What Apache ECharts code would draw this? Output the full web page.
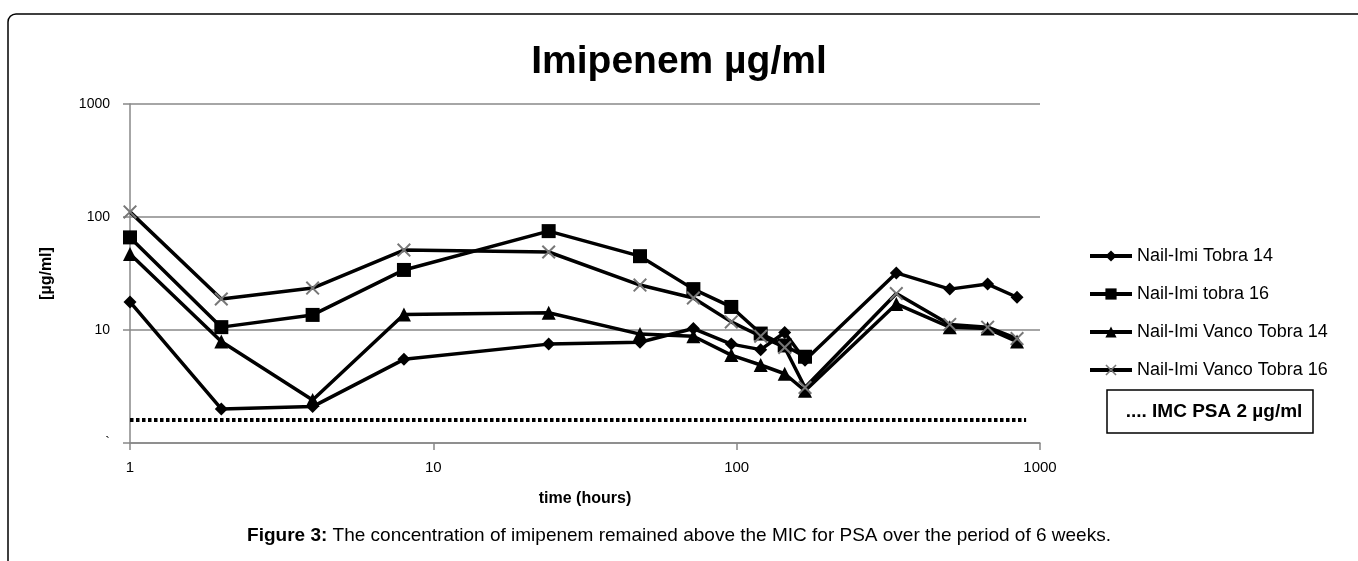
<!DOCTYPE html>
<html>
<head>
<meta charset="utf-8">
<title>Imipenem</title>
<script src="https://cdn.jsdelivr.net/npm/echarts@6/dist/echarts.min.js"></script>
<style>
  html, body { margin:0; padding:0; background:#fff; }
  #myChart { width:1358px; height:561px; }
</style>
</head>
<body>
<div id="myChart"></div>
<script>
// time points (hours)
var times = [1, 2, 4, 8, 24, 48, 72, 96, 120, 144, 168, 336, 504, 672, 840];
// concentrations (µg/ml)
var tobra14 = [17.7, 2.0, 2.1, 5.5, 7.5, 7.8, 10.3, 7.5, 6.7, 9.5, 5.4, 32, 23, 25.5, 19.5];
var tobra16 = [66, 10.6, 13.6, 34, 75, 45, 23, 16, 9.3, 7.3, 5.8, null, null, null, null];
var vanco14 = [47, 7.9, 2.4, 13.7, 14.2, 9.2, 8.8, 6.0, 4.9, 4.1, 2.9, 17, 10.6, 10.3, 7.9];
var vanco16 = [111, 18.8, 23.5, 51, 49, 25, 19.2, 11.8, 8.8, 7.0, 3.1, 21, 11.2, 10.6, 8.4];
// MIC reference line
var micTimes = [1, 900];
var micValue = 1.6;

var seriesNames = ['Nail-Imi Tobra 14', 'Nail-Imi tobra 16', 'Nail-Imi Vanco Tobra 14', 'Nail-Imi Vanco Tobra 16'];

function pairs(vals) {
  var out = [];
  for (var i = 0; i < times.length; i++) {
    if (vals[i] != null) out.push([times[i], vals[i]]);
  }
  return out;
}

var crossPath = 'path://M0,1L1,0L5,4L9,0L10,1L6,5L10,9L9,10L5,6L1,10L0,9L4,5Z';
var font = 'Arial, "Liberation Sans", sans-serif';

function lineSeries(name, vals, symbol, size, symColor) {
  return {
    name: name,
    type: 'line',
    data: pairs(vals),
    symbol: symbol,
    symbolSize: size,
    showSymbol: true,
    lineStyle: { color: '#000', width: 3.5 },
    itemStyle: { color: symColor || '#000' },
    emphasis: { disabled: true },
    z: 3
  };
}

var myChart = echarts.init(document.getElementById('myChart'));
var option = {
  backgroundColor: '#fff',
  animation: false,
  textStyle: { fontFamily: font },
  title: {
    text: 'Imipenem µg/ml',
    left: 'center',
    top: 38,
    textStyle: { fontSize: 39, fontWeight: 'bold', color: '#000', fontFamily: font }
  },
  legend: {
    data: seriesNames,
    orient: 'vertical',
    left: 1083,
    top: 242,
    itemWidth: 42,
    itemHeight: 14,
    itemGap: 20,
    lineStyle: { width: 4 },
    textStyle: { fontSize: 18, color: '#000', fontFamily: font }
  },
  grid: { left: 130, right: 318, top: 104, bottom: 118 },
  xAxis: {
    type: 'log',
    logBase: 10,
    min: 1,
    max: 1000,
    name: 'time (hours)',
    nameLocation: 'middle',
    nameGap: 48,
    nameTextStyle: { fontSize: 16, fontWeight: 'bold', color: '#000' },
    axisLine: { lineStyle: { color: '#888', width: 1.5 } },
    axisTick: { show: true, length: 7, lineStyle: { color: '#888', width: 1.5 } },
    axisLabel: { fontSize: 15, color: '#000', margin: 17, formatter: function (v) { return String(v); } },
    splitLine: { show: false }
  },
  yAxis: {
    type: 'log',
    logBase: 10,
    min: 1,
    max: 1000,
    name: '[µg/ml]',
    nameLocation: 'middle',
    nameGap: 75,
    nameTextStyle: { fontSize: 16, fontWeight: 'bold', color: '#000' },
    axisLine: { show: true, lineStyle: { color: '#888', width: 1.5 } },
    axisTick: { show: true, length: 7, lineStyle: { color: '#888', width: 1.5 } },
    axisLabel: {
      fontSize: 14, color: '#000', margin: 20,
      formatter: function (v) { return v === 1 ? '`' : String(v); }
    },
    splitLine: { show: true, lineStyle: { color: '#888', width: 1.5 } }
  },
  series: [
    lineSeries(seriesNames[0], tobra14, 'diamond', 13),
    lineSeries(seriesNames[1], tobra16, 'rect', 14),
    lineSeries(seriesNames[2], vanco14, 'triangle', 14),
    lineSeries(seriesNames[3], vanco16, crossPath, 14, '#777'),
    {
      name: 'IMC PSA 2 µg/ml',
      type: 'line',
      data: micTimes.map(function (t) { return [t, micValue]; }),
      symbol: 'none',
      lineStyle: { color: '#000', width: 4, type: [3.5, 2.5] },
      emphasis: { disabled: true },
      z: 2
    }
  ],
  graphic: [
    // outer frame of the figure
    {
      type: 'rect',
      shape: { x: 8, y: 14, width: 1420, height: 620, r: 8 },
      style: { fill: 'none', stroke: '#000', lineWidth: 1.5 },
      silent: true
    },
    // MIC box in the legend area
    {
      type: 'rect',
      shape: { x: 1107, y: 390, width: 206, height: 43 },
      style: { fill: '#fff', stroke: '#000', lineWidth: 1.5 },
      silent: true
    },
    {
      type: 'text',
      x: 1214,
      y: 412,
      style: {
        text: '.... IMC PSA 2 µg/ml',
        font: 'bold 19px ' + font,
        fill: '#000',
        align: 'center',
        verticalAlign: 'middle'
      },
      silent: true
    },
    // figure caption
    {
      type: 'text',
      x: 679,
      y: 536,
      style: {
        text: '{b|Figure 3:} The concentration of imipenem remained above the MIC for PSA over the period of 6 weeks.',
        font: '19px ' + font,
        fill: '#000',
        align: 'center',
        verticalAlign: 'middle',
        rich: {
          b: { font: 'bold 19px ' + font, fill: '#000' }
        }
      },
      silent: true
    }
  ]
};
myChart.setOption(option);
</script>
</body>
</html>
